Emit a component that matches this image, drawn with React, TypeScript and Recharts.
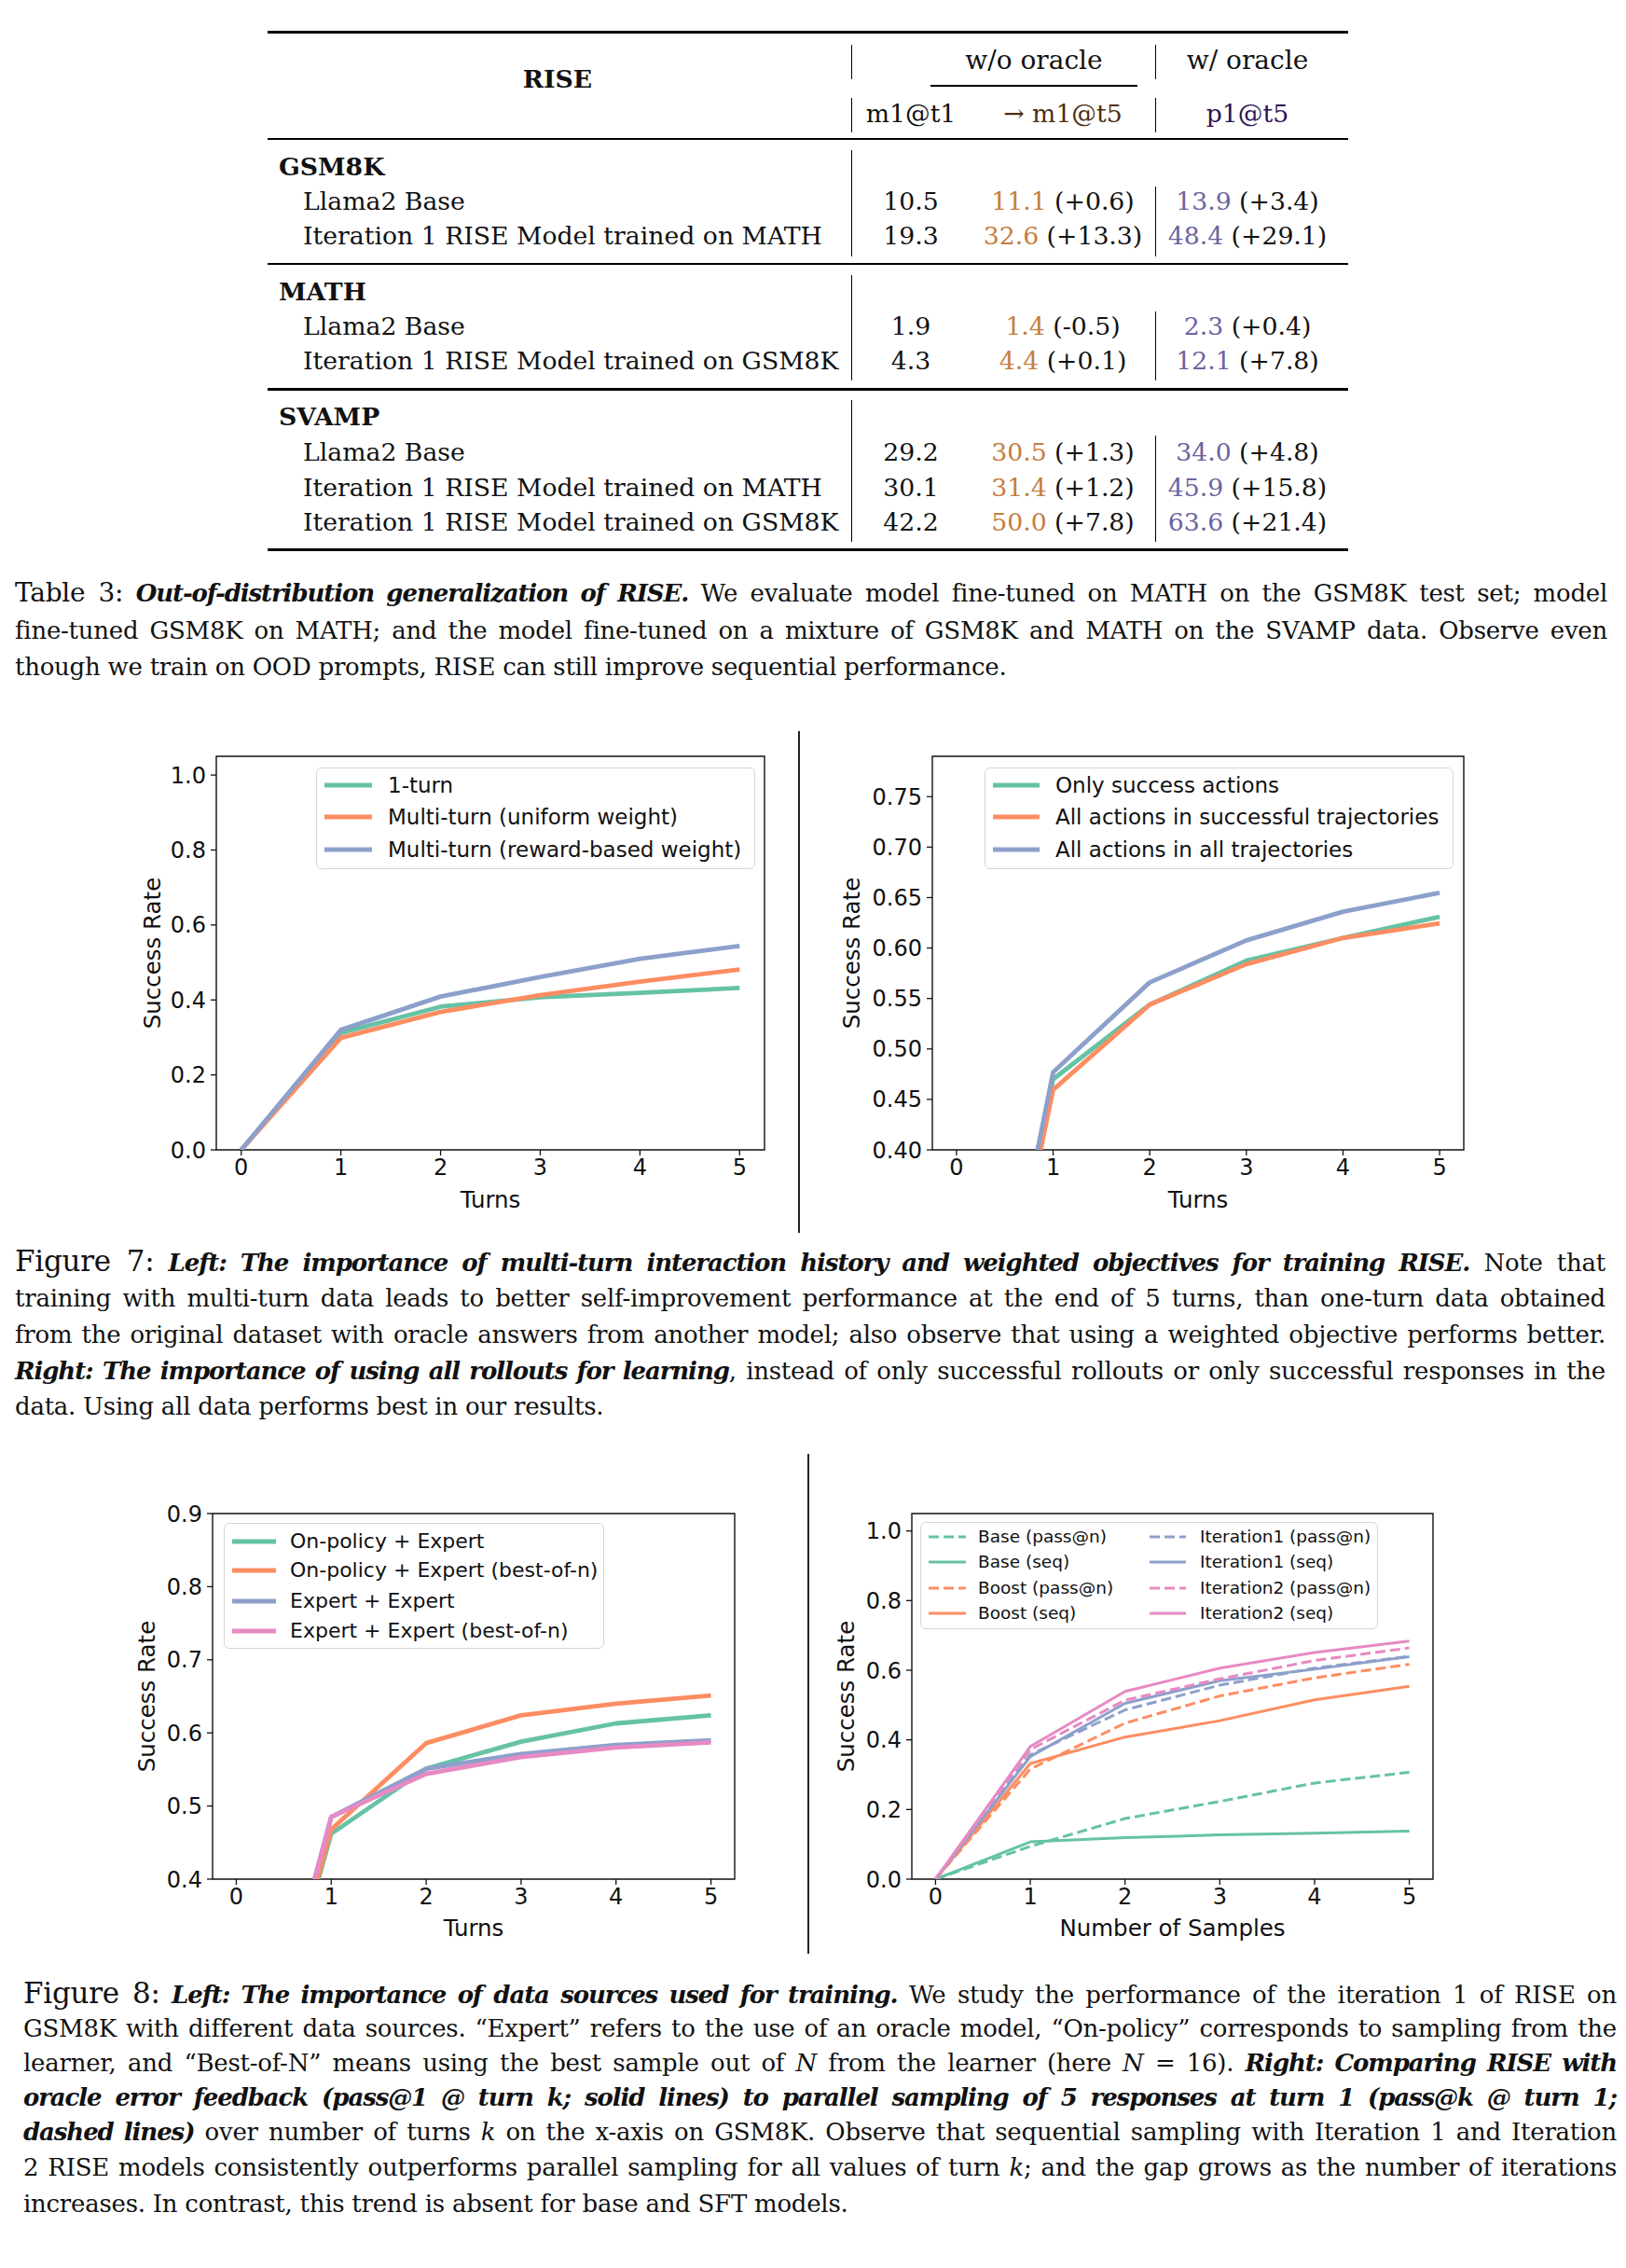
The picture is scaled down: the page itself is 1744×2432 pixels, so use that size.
import React from "react";
import { LineChart, Line, XAxis, YAxis, ReferenceArea, Legend } from "recharts";

const SANS = "'DejaVu Sans', sans-serif";
const SERIF = "'DejaVu Serif', serif";
const INK = "#111";

// Set2 colours (matplotlib)
const GREEN = "#66c2a5";
const ORANGE = "#fc8d62";
const BLUE = "#8da0cb";
const PINK = "#e78ac3";

// ---------- data ----------
const turns = [0, 1, 2, 3, 4, 5];

// Fig 7 left
const oneTurn = [0, 0.312, 0.382, 0.407, 0.419, 0.432];
const multiUniform = [0, 0.299, 0.368, 0.413, 0.449, 0.481];
const multiReward = [0, 0.32, 0.409, 0.461, 0.51, 0.544];

// Fig 7 right
const onlySuccess = [0, 0.47, 0.544, 0.5875, 0.61, 0.631];
const allInSuccess = [0, 0.4595, 0.544, 0.584, 0.61, 0.6245];
const allInAll = [0, 0.477, 0.566, 0.6076, 0.636, 0.6548];

// Fig 8 left
const onPolicyExpert = [0, 0.462, 0.551, 0.588, 0.613, 0.624];
const onPolicyExpertBon = [0, 0.468, 0.586, 0.624, 0.64, 0.651];
const expertExpert = [0, 0.485, 0.551, 0.571, 0.5835, 0.59];
const expertExpertBon = [0, 0.485, 0.544, 0.567, 0.58, 0.587];

// Fig 8 right
const basePass = [0, 0.094, 0.174, 0.223, 0.276, 0.307];
const baseSeq = [0, 0.107, 0.119, 0.127, 0.132, 0.138];
const boostPass = [0, 0.316, 0.448, 0.526, 0.578, 0.617];
const boostSeq = [0, 0.332, 0.408, 0.455, 0.515, 0.554];
const iter1Pass = [0, 0.357, 0.486, 0.557, 0.606, 0.64];
const iter1Seq = [0, 0.352, 0.505, 0.57, 0.603, 0.639];
const iter2Pass = [0, 0.372, 0.514, 0.575, 0.628, 0.664];
const iter2Seq = [0, 0.381, 0.539, 0.606, 0.651, 0.684];

const ticksUnit = [0, 0.2, 0.4, 0.6, 0.8, 1.0];
const ticksRight7 = [0.4, 0.45, 0.5, 0.55, 0.6, 0.65, 0.7, 0.75];
const ticksLeft8 = [0.4, 0.5, 0.6, 0.7, 0.8, 0.9];

// Table 3
const groups = ["GSM8K", "MATH", "SVAMP"];
const models = [
  ["Llama2 Base", "Iteration 1 RISE Model trained on MATH"],
  ["Llama2 Base", "Iteration 1 RISE Model trained on GSM8K"],
  ["Llama2 Base", "Iteration 1 RISE Model trained on MATH", "Iteration 1 RISE Model trained on GSM8K"],
];
const m1t1 = [["10.5", "19.3"], ["1.9", "4.3"], ["29.2", "30.1", "42.2"]];
const m1t5 = [["11.1", "32.6"], ["1.4", "4.4"], ["30.5", "31.4", "50.0"]];
const m1t5Gain = [["+0.6", "+13.3"], ["-0.5", "+0.1"], ["+1.3", "+1.2", "+7.8"]];
const p1t5 = [["13.9", "48.4"], ["2.3", "12.1"], ["34.0", "45.9", "63.6"]];
const p1t5Gain = [["+3.4", "+29.1"], ["+0.4", "+7.8"], ["+4.8", "+15.8", "+21.4"]];

// ---------- chart panel ----------
type Series = { key: string; name: string; color: string; values: number[]; dashed?: boolean };
type LegendCfg = {
  l: number; t: number; w: number; h: number; fontSize: number;
  rows: number[]; cols: { x0: number; x1: number; tx: number }[];
};
type Panel = {
  plot: { l: number; t: number; r: number; b: number };
  yLabelX: number;
  xLabelY: number;
  yDomain: [number, number];
  yTicks: number[];
  yDigits: number;
  xLabel: string;
  series: Series[];
  lw: number;
  legend: LegendCfg;
};

function LegendBox({ cfg, series, lw }: { cfg: LegendCfg; series: Series[]; lw: number }) {
  const perCol = cfg.rows.length;
  return (
    <div
      style={{
        position: "relative",
        width: cfg.w,
        height: cfg.h,
        boxSizing: "border-box",
        border: "1.5px solid #d6d6d6",
        borderRadius: 6,
        background: "rgba(255,255,255,0.85)",
        fontFamily: SANS,
        fontSize: cfg.fontSize,
        color: INK,
      }}
    >
      {series.map((s, i) => {
        const col = cfg.cols[Math.floor(i / perCol)];
        const y = cfg.rows[i % perCol];
        return (
          <React.Fragment key={s.key}>
            <svg style={{ position: "absolute", left: col.x0, top: y - 6 }} width={col.x1 - col.x0} height={12}>
              <line
                x1={0}
                y1={6}
                x2={col.x1 - col.x0}
                y2={6}
                stroke={s.color}
                strokeWidth={lw}
                strokeDasharray={s.dashed ? "11 5" : undefined}
              />
            </svg>
            <div style={{ position: "absolute", left: col.tx, top: y - 16, height: 32, lineHeight: "32px", whiteSpace: "nowrap" }}>
              {s.name}
            </div>
          </React.Fragment>
        );
      })}
    </div>
  );
}

function LinePanel({ p }: { p: Panel }) {
  const yW = 2 * (p.plot.l - p.yLabelX);
  const xH = 2 * (p.xLabelY - p.plot.b);
  const mT = 16, mR = 16, mB = 4, mL = 4;
  const left = p.plot.l - yW - mL;
  const top = p.plot.t - mT;
  const width = p.plot.r + mR - left;
  const height = p.plot.b + xH + mB - top;
  const rows = turns.map((x, i) => {
    const r: Record<string, number> = { x };
    p.series.forEach((s) => (r[s.key] = s.values[i]));
    return r;
  });
  const tickStyle = { fontSize: 24, fill: INK, fontFamily: SANS };
  const labelStyle = { fontSize: 24.5, fill: INK, fontFamily: SANS };
  return (
    <div style={{ position: "absolute", left, top }}>
      <LineChart width={width} height={height} data={rows} margin={{ top: mT, right: mR, bottom: mB, left: mL }}>
        <XAxis
          type="number"
          dataKey="x"
          domain={[-0.25, 5.25]}
          ticks={turns}
          interval={0}
          allowDataOverflow
          axisLine={false}
          tickLine={{ stroke: INK, strokeWidth: 1.3 }}
          tickSize={6}
          tickMargin={4}
          height={xH}
          tick={tickStyle}
          label={{ value: p.xLabel, position: "center", ...labelStyle }}
        />
        <YAxis
          type="number"
          domain={p.yDomain}
          ticks={p.yTicks}
          interval={0}
          allowDataOverflow
          axisLine={false}
          tickLine={{ stroke: INK, strokeWidth: 1.3 }}
          tickSize={6}
          tickMargin={5}
          width={yW}
          tick={tickStyle}
          tickFormatter={(v: number) => v.toFixed(p.yDigits)}
          label={{ value: "Success Rate", angle: -90, position: "center", ...labelStyle }}
        />
        {p.series.map((s) => (
          <Line
            key={s.key}
            type="linear"
            dataKey={s.key}
            name={s.name}
            stroke={s.color}
            strokeWidth={p.lw}
            strokeDasharray={s.dashed ? "11 5" : undefined}
            strokeLinejoin="round"
            dot={false}
            activeDot={false}
            isAnimationActive={false}
          />
        ))}
        <ReferenceArea
          x1={-0.25}
          x2={5.25}
          y1={p.yDomain[0]}
          y2={p.yDomain[1]}
          fill="none"
          fillOpacity={0}
          stroke={INK}
          strokeWidth={1.4}
        />
        <Legend
          layout="vertical"
          align="center"
          verticalAlign="middle"
          wrapperStyle={{ left: p.legend.l - left, top: p.legend.t - top, width: p.legend.w, height: p.legend.h }}
          content={() => <LegendBox cfg={p.legend} series={p.series} lw={p.lw} />}
        />
      </LineChart>
    </div>
  );
}

const panels: Panel[] = [
  {
    plot: { l: 232, t: 811, r: 820, b: 1233 },
    yLabelX: 163,
    xLabelY: 1286,
    yDomain: [0, 1.05],
    yTicks: ticksUnit,
    yDigits: 1,
    xLabel: "Turns",
    lw: 4.8,
    series: [
      { key: "a", name: "1-turn", color: GREEN, values: oneTurn },
      { key: "b", name: "Multi-turn (uniform weight)", color: ORANGE, values: multiUniform },
      { key: "c", name: "Multi-turn (reward-based weight)", color: BLUE, values: multiReward },
    ],
    legend: { l: 339, t: 823, w: 471, h: 109, fontSize: 23, rows: [18, 52, 87], cols: [{ x0: 8, x1: 59, tx: 76 }] },
  },
  {
    plot: { l: 1000, t: 811, r: 1570, b: 1233 },
    yLabelX: 913,
    xLabelY: 1286,
    yDomain: [0.4, 0.79],
    yTicks: ticksRight7,
    yDigits: 2,
    xLabel: "Turns",
    lw: 4.8,
    series: [
      { key: "a", name: "Only success actions", color: GREEN, values: onlySuccess },
      { key: "b", name: "All actions in successful trajectories", color: ORANGE, values: allInSuccess },
      { key: "c", name: "All actions in all trajectories", color: BLUE, values: allInAll },
    ],
    legend: { l: 1056, t: 823, w: 503, h: 109, fontSize: 23, rows: [18, 52, 87], cols: [{ x0: 8, x1: 58, tx: 75 }] },
  },
  {
    plot: { l: 228, t: 1623, r: 788, b: 2015 },
    yLabelX: 157,
    xLabelY: 2067,
    yDomain: [0.4, 0.9],
    yTicks: ticksLeft8,
    yDigits: 1,
    xLabel: "Turns",
    lw: 4.8,
    series: [
      { key: "a", name: "On-policy + Expert", color: GREEN, values: onPolicyExpert },
      { key: "b", name: "On-policy + Expert (best-of-n)", color: ORANGE, values: onPolicyExpertBon },
      { key: "c", name: "Expert + Expert", color: BLUE, values: expertExpert },
      { key: "d", name: "Expert + Expert (best-of-n)", color: PINK, values: expertExpertBon },
    ],
    legend: { l: 240, t: 1633, w: 408, h: 135, fontSize: 22, rows: [19, 50, 83, 115], cols: [{ x0: 8, x1: 55, tx: 70 }] },
  },
  {
    plot: { l: 978, t: 1623, r: 1537, b: 2015 },
    yLabelX: 907,
    xLabelY: 2067,
    yDomain: [0, 1.05],
    yTicks: ticksUnit,
    yDigits: 1,
    xLabel: "Number of Samples",
    lw: 3,
    series: [
      { key: "bp", name: "Base (pass@n)", color: GREEN, values: basePass, dashed: true },
      { key: "bs", name: "Base (seq)", color: GREEN, values: baseSeq },
      { key: "op", name: "Boost (pass@n)", color: ORANGE, values: boostPass, dashed: true },
      { key: "os", name: "Boost (seq)", color: ORANGE, values: boostSeq },
      { key: "ip", name: "Iteration1 (pass@n)", color: BLUE, values: iter1Pass, dashed: true },
      { key: "is", name: "Iteration1 (seq)", color: BLUE, values: iter1Seq },
      { key: "jp", name: "Iteration2 (pass@n)", color: PINK, values: iter2Pass, dashed: true },
      { key: "js", name: "Iteration2 (seq)", color: PINK, values: iter2Seq },
    ],
    legend: {
      l: 987, t: 1632, w: 491, h: 115, fontSize: 18.5, rows: [15, 42, 70, 97],
      cols: [{ x0: 8, x1: 48, tx: 61 }, { x0: 245, x1: 284, tx: 299 }],
    },
  },
];

// ---------- table ----------
const T = { l: 287, r: 1446, v1: 913, v2: 1239, c1: 977, c2: 1140, c3: 1338, gx: 299, rx: 325 };
const groupY = [179, 313, 447];
const rowY = [[216, 253], [350, 387], [485, 523, 560]];
const rules = [{ y: 34, w: 3 }, { y: 149, w: 2 }, { y: 283, w: 2 }, { y: 417, w: 3 }, { y: 589, w: 3 }];
const vSeg1 = [[48, 85], [105, 142], [161, 275], [295, 408], [429, 581]];
const vSeg2 = [[48, 85], [105, 142], [200, 275], [334, 408], [467, 581]];

function Cell({ x, y, align = "left", children, style }: any) {
  const pos: React.CSSProperties =
    align === "center"
      ? { left: x - 300, width: 600, textAlign: "center" }
      : { left: x };
  return (
    <div
      style={{
        position: "absolute",
        top: y - 18,
        height: 36,
        lineHeight: "36px",
        whiteSpace: "nowrap",
        fontFamily: SERIF,
        fontSize: 26.7,
        color: INK,
        ...pos,
        ...style,
      }}
    >
      {children}
    </div>
  );
}

function Table3() {
  return (
    <>
      {rules.map((r) => (
        <div key={r.y} style={{ position: "absolute", left: T.l, width: T.r - T.l, top: r.y - r.w / 2, height: r.w, background: "#000" }} />
      ))}
      <div style={{ position: "absolute", left: 998, width: 222, top: 91, height: 1.5, background: "#000" }} />
      {vSeg1.map(([a, b]) => (
        <div key={"a" + a} style={{ position: "absolute", left: T.v1, top: a, height: b - a, width: 1.3, background: "#000" }} />
      ))}
      {vSeg2.map(([a, b]) => (
        <div key={"b" + a} style={{ position: "absolute", left: T.v2, top: a, height: b - a, width: 1.3, background: "#000" }} />
      ))}
      <Cell x={598} y={85} align="center" style={{ fontWeight: "bold" }}>RISE</Cell>
      <Cell x={1109} y={65} align="center" style={{ fontSize: 28 }}>w/o oracle</Cell>
      <Cell x={1338} y={65} align="center" style={{ fontSize: 28 }}>w/ oracle</Cell>
      <Cell x={T.c1} y={122} align="center">m1@t1</Cell>
      <Cell x={T.c2} y={122} align="center" style={{ color: "#4d2f14" }}>→ m1@t5</Cell>
      <Cell x={T.c3} y={122} align="center" style={{ color: "#2d1452" }}>p1@t5</Cell>
      {groups.map((g, gi) => (
        <React.Fragment key={g}>
          <Cell x={T.gx} y={groupY[gi]} style={{ fontWeight: "bold" }}>{g}</Cell>
          {models[gi].map((m, ri) => (
            <React.Fragment key={ri}>
              <Cell x={T.rx} y={rowY[gi][ri]}>{m}</Cell>
              <Cell x={T.c1} y={rowY[gi][ri]} align="center">{m1t1[gi][ri]}</Cell>
              <Cell x={T.c2} y={rowY[gi][ri]} align="center">
                <span style={{ color: "#c47d3e" }}>{m1t5[gi][ri]}</span> ({m1t5Gain[gi][ri]})
              </Cell>
              <Cell x={T.c3} y={rowY[gi][ri]} align="center">
                <span style={{ color: "#6c62a0" }}>{p1t5[gi][ri]}</span> ({p1t5Gain[gi][ri]})
              </Cell>
            </React.Fragment>
          ))}
        </React.Fragment>
      ))}
    </>
  );
}

// ---------- captions ----------
function CapLine({ y, l, r, last, children }: { y: number; l: number; r: number; last?: boolean; children: React.ReactNode }) {
  return (
    <div
      style={{
        position: "absolute",
        left: l,
        width: r - l,
        top: y - 20,
        height: 40,
        lineHeight: "40px",
        whiteSpace: "nowrap",
        fontFamily: SERIF,
        fontSize: 26,
        letterSpacing: -0.25,
        color: INK,
        textAlign: last ? "left" : "justify",
        textAlignLast: last ? "left" : "justify",
      }}
    >
      {children}
    </div>
  );
}

const BI = ({ children }: { children: React.ReactNode }) => (
  <b style={{ letterSpacing: -1.1 }}>
    <i>{children}</i>
  </b>
);

export default function App() {
  return (
    <div style={{ position: "absolute", left: 0, top: 0, width: 1744, height: 2432, background: "#fff", overflow: "hidden" }}>
      <Table3 />

      <CapLine y={636} l={16} r={1724}>
        <span style={{ fontSize: 28 }}>Table 3:</span> <BI>Out-of-distribution generalization of RISE.</BI> We evaluate model fine-tuned on MATH on the GSM8K test set; model
      </CapLine>
      <CapLine y={676} l={16} r={1724}>
        fine-tuned GSM8K on MATH; and the model fine-tuned on a mixture of GSM8K and MATH on the SVAMP data. Observe even
      </CapLine>
      <CapLine y={715} l={16} r={1724} last>
        though we train on OOD prompts, RISE can still improve sequential performance.
      </CapLine>

      {panels.slice(0, 2).map((p, i) => (
        <LinePanel key={i} p={p} />
      ))}
      <div style={{ position: "absolute", left: 856, top: 784, width: 1.5, height: 538, background: "#222" }} />

      <CapLine y={1352} l={16} r={1722}>
        <span style={{ fontSize: 31 }}>Figure 7:</span>{" "}
        <BI>Left: The importance of multi-turn interaction history and weighted objectives for training RISE.</BI> Note that
      </CapLine>
      <CapLine y={1392} l={16} r={1722}>
        training with multi-turn data leads to better self-improvement performance at the end of 5 turns, than one-turn data obtained
      </CapLine>
      <CapLine y={1431} l={16} r={1722}>
        from the original dataset with oracle answers from another model; also observe that using a weighted objective performs better.
      </CapLine>
      <CapLine y={1470} l={16} r={1722}>
        <BI>Right: The importance of using all rollouts for learning</BI>, instead of only successful rollouts or only successful responses in the
      </CapLine>
      <CapLine y={1508} l={16} r={1722} last>
        data. Using all data performs best in our results.
      </CapLine>

      {panels.slice(2).map((p, i) => (
        <LinePanel key={i} p={p} />
      ))}
      <div style={{ position: "absolute", left: 866, top: 1559, width: 1.5, height: 536, background: "#222" }} />

      <CapLine y={2137} l={25} r={1734}>
        <span style={{ fontSize: 31 }}>Figure 8:</span> <BI>Left: The importance of data sources used for training.</BI> We study the performance of the iteration 1 of RISE on
      </CapLine>
      <CapLine y={2175} l={25} r={1734}>
        GSM8K with different data sources. “Expert” refers to the use of an oracle model, “On-policy” corresponds to sampling from the
      </CapLine>
      <CapLine y={2212} l={25} r={1734}>
        learner, and “Best-of-N” means using the best sample out of <i>N</i> from the learner (here <i>N</i> = 16).{" "}
        <BI>Right: Comparing RISE with</BI>
      </CapLine>
      <CapLine y={2249} l={25} r={1734}>
        <BI>oracle error feedback (pass@1 @ turn k; solid lines) to parallel sampling of 5 responses at turn 1 (pass@k @ turn 1;</BI>
      </CapLine>
      <CapLine y={2286} l={25} r={1734}>
        <BI>dashed lines)</BI> over number of turns <i>k</i> on the x-axis on GSM8K. Observe that sequential sampling with Iteration 1 and Iteration
      </CapLine>
      <CapLine y={2324} l={25} r={1734}>
        2 RISE models consistently outperforms parallel sampling for all values of turn <i>k</i>; and the gap grows as the number of iterations
      </CapLine>
      <CapLine y={2363} l={25} r={1734} last>
        increases. In contrast, this trend is absent for base and SFT models.
      </CapLine>
    </div>
  );
}
